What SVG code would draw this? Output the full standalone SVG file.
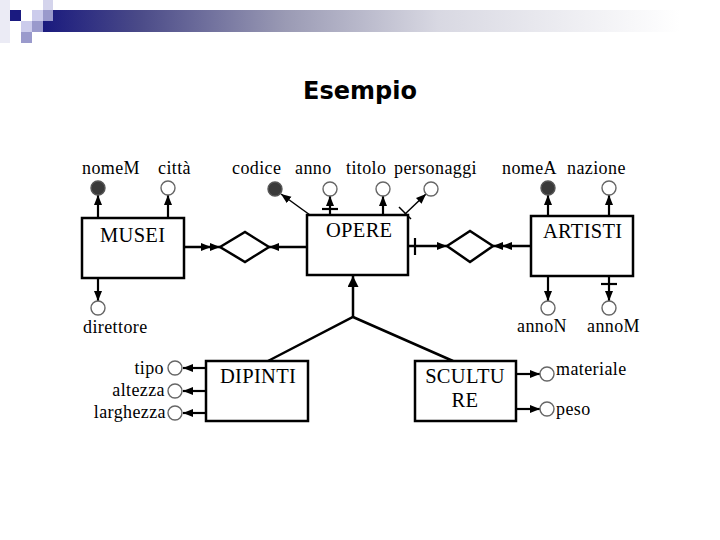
<svg xmlns="http://www.w3.org/2000/svg" width="720" height="540" viewBox="0 0 720 540">
<defs>
<linearGradient id="bar" gradientUnits="userSpaceOnUse" x1="43" y1="0" x2="680" y2="0">
<stop offset="0" stop-color="#1a1a7e"/>
<stop offset="0.15" stop-color="#4a4a88"/>
<stop offset="0.38" stop-color="#9a9ab4"/>
<stop offset="0.62" stop-color="#d8d8e2"/>
<stop offset="1" stop-color="#ffffff"/>
</linearGradient>
<marker id="arr" markerUnits="userSpaceOnUse" markerWidth="11" markerHeight="9" refX="10" refY="4.5" orient="auto">
<path d="M0,0.5 L10,4.5 L0,8.5 z" fill="#000"/>
</marker>
<marker id="arr2" markerUnits="userSpaceOnUse" markerWidth="20" markerHeight="9" refX="19" refY="4.5" orient="auto">
<path d="M0,0.5 L10,4.5 L0,8.5 z M9,0.5 L19,4.5 L9,8.5 z" fill="#000"/>
</marker>
<marker id="arrB" markerUnits="userSpaceOnUse" markerWidth="12" markerHeight="12" refX="11" refY="5.5" orient="auto">
<path d="M0,0 L11,5.5 L0,11 z" fill="#000"/>
</marker>
</defs>
<style>
.ent{fill:#fff;stroke:#000;stroke-width:2.5}
.rel{fill:#fff;stroke:#000;stroke-width:2.5}
.ao{fill:#fff;stroke:#666;stroke-width:1.4}
.af{fill:#3a3a3a;stroke:#555;stroke-width:1.4}
.c{stroke:#000;stroke-width:2.5;fill:none}
.ca{stroke:#000;stroke-width:2.2;fill:none}
.cd{stroke:#000;stroke-width:1.5;fill:none}
.t{font-family:"Liberation Serif","Times New Roman",serif;font-size:18px;letter-spacing:0.4px;fill:#000}
.te{font-family:"Liberation Serif","Times New Roman",serif;font-size:20.5px;letter-spacing:0.3px;fill:#000}
</style>
<rect width="720" height="540" fill="#fff"/>
<g id="header">
<rect x="0" y="0" width="10" height="43" fill="#ebebf5"/>
<rect x="43" y="10" width="677" height="22" fill="url(#bar)"/>
<rect x="10" y="10" width="11" height="11" fill="#1a1a80"/>
<rect x="32" y="10" width="11" height="11" fill="#ccccec"/>
<rect x="43" y="0" width="10" height="10" fill="#d4d4ec"/>
<rect x="43" y="10" width="10" height="11" fill="#9a9acc"/>
<rect x="21" y="21" width="11" height="11" fill="#ccccec"/>
<rect x="32" y="21" width="11" height="11" fill="#9a9acc"/>
<rect x="21" y="32" width="11" height="11" fill="#9a9acc"/>
<text x="360" y="99" text-anchor="middle" font-family="DejaVu Sans, Verdana, sans-serif" font-weight="bold" font-size="24">Esempio</text>
</g>
<g id="connectors">
<line class="ca" x1="98" y1="218" x2="98" y2="195" marker-end="url(#arr)"/>
<line class="ca" x1="168" y1="218" x2="168" y2="195" marker-end="url(#arr)"/>
<line class="ca" x1="98" y1="278" x2="98" y2="301" marker-end="url(#arr)"/>
<line class="c" x1="184" y1="247" x2="220" y2="247" marker-end="url(#arr2)"/>
<line class="c" x1="307" y1="247" x2="269" y2="247" marker-end="url(#arr)"/>
<line class="cd" x1="310" y1="215" x2="281" y2="194" marker-end="url(#arr)"/>
<line class="ca" x1="330" y1="215" x2="330" y2="196" marker-end="url(#arr)"/>
<line class="ca" x1="322" y1="209" x2="338" y2="209"/>
<line class="ca" x1="383" y1="215" x2="383" y2="196" marker-end="url(#arr)"/>
<line class="cd" x1="404" y1="215" x2="426" y2="194" marker-end="url(#arr)"/>
<line class="cd" x1="399" y1="207" x2="411" y2="219"/>
<line class="c" x1="408" y1="246" x2="447" y2="246" marker-end="url(#arr)"/>
<line class="ca" x1="415" y1="238" x2="415" y2="255"/>
<line class="c" x1="531" y1="246" x2="493" y2="246" marker-end="url(#arr2)"/>
<line class="ca" x1="548" y1="216" x2="548" y2="195" marker-end="url(#arr)"/>
<line class="ca" x1="609" y1="216" x2="609" y2="195" marker-end="url(#arr)"/>
<line class="ca" x1="548" y1="276" x2="548" y2="301" marker-end="url(#arr)"/>
<line class="ca" x1="609" y1="276" x2="609" y2="301" marker-end="url(#arr)"/>
<line class="ca" x1="601" y1="284" x2="617" y2="284"/>
<polyline class="c" points="268,361 353,317 453,361"/>
<line class="c" x1="353" y1="317" x2="353" y2="276" marker-end="url(#arrB)"/>
<line class="ca" x1="206" y1="368" x2="183" y2="368" marker-end="url(#arr)"/>
<line class="ca" x1="206" y1="391" x2="183" y2="391" marker-end="url(#arr)"/>
<line class="ca" x1="206" y1="413" x2="183" y2="413" marker-end="url(#arr)"/>
<line class="ca" x1="516" y1="374" x2="540" y2="374" marker-end="url(#arr)"/>
<line class="ca" x1="516" y1="409" x2="540" y2="409" marker-end="url(#arr)"/>
</g>
<g id="rel-musei-opere"><polygon class="rel" points="220,247 245,232 269,247 245,262"/></g>
<g id="rel-opere-artisti"><polygon class="rel" points="447,246 470,231 493,246 470,262"/></g>
<g id="musei">
<rect class="ent" x="82" y="218" width="102" height="60"/>
<text class="te" x="100" y="242">MUSEI</text>
</g>
<g id="opere">
<rect class="ent" x="307" y="215" width="101" height="60"/>
<text class="te" x="326" y="237">OPERE</text>
</g>
<g id="artisti">
<rect class="ent" x="531" y="216" width="102" height="60"/>
<text class="te" x="543" y="238">ARTISTI</text>
</g>
<g id="dipinti">
<rect class="ent" x="206" y="361" width="102" height="60"/>
<text class="te" x="220" y="383">DIPINTI</text>
</g>
<g id="sculture">
<rect class="ent" x="415" y="361" width="101" height="60"/>
<text class="te" x="465" y="383" text-anchor="middle">SCULTU</text>
<text class="te" x="465" y="407" text-anchor="middle">RE</text>
</g>
<g id="attr-nomeM"><circle class="af" cx="98" cy="188" r="7"/><text class="t" x="82" y="174">nomeM</text></g>
<g id="attr-citta"><circle class="ao" cx="168" cy="188" r="7"/><text class="t" x="158" y="174">città</text></g>
<g id="attr-direttore"><circle class="ao" cx="98" cy="308" r="7"/><text class="t" x="83" y="333">direttore</text></g>
<g id="attr-codice"><circle class="af" cx="275" cy="189" r="7"/><text class="t" x="232" y="174">codice</text></g>
<g id="attr-anno"><circle class="ao" cx="330" cy="189" r="7"/><text class="t" x="295" y="174">anno</text></g>
<g id="attr-titolo"><circle class="ao" cx="383" cy="189" r="7"/><text class="t" x="346" y="174">titolo</text></g>
<g id="attr-personaggi"><circle class="ao" cx="431" cy="189" r="7"/><text class="t" x="394" y="174">personaggi</text></g>
<g id="attr-nomeA"><circle class="af" cx="548" cy="188" r="7"/><text class="t" x="502" y="174">nomeA</text></g>
<g id="attr-nazione"><circle class="ao" cx="609" cy="188" r="7"/><text class="t" x="567" y="174">nazione</text></g>
<g id="attr-annoN"><circle class="ao" cx="548" cy="308" r="7"/><text class="t" x="517" y="332">annoN</text></g>
<g id="attr-annoM"><circle class="ao" cx="609" cy="308" r="7"/><text class="t" x="587" y="332">annoM</text></g>
<g id="attr-tipo"><circle class="ao" cx="175" cy="368" r="7"/><text class="t" x="164" y="374" text-anchor="end">tipo</text></g>
<g id="attr-altezza"><circle class="ao" cx="175" cy="391" r="7"/><text class="t" x="165" y="396" text-anchor="end">altezza</text></g>
<g id="attr-larghezza"><circle class="ao" cx="175" cy="413" r="7"/><text class="t" x="166" y="418" text-anchor="end">larghezza</text></g>
<g id="attr-materiale"><circle class="ao" cx="547" cy="374" r="7"/><text class="t" x="556" y="375">materiale</text></g>
<g id="attr-peso"><circle class="ao" cx="547" cy="409" r="7"/><text class="t" x="556" y="415">peso</text></g>
</svg>
